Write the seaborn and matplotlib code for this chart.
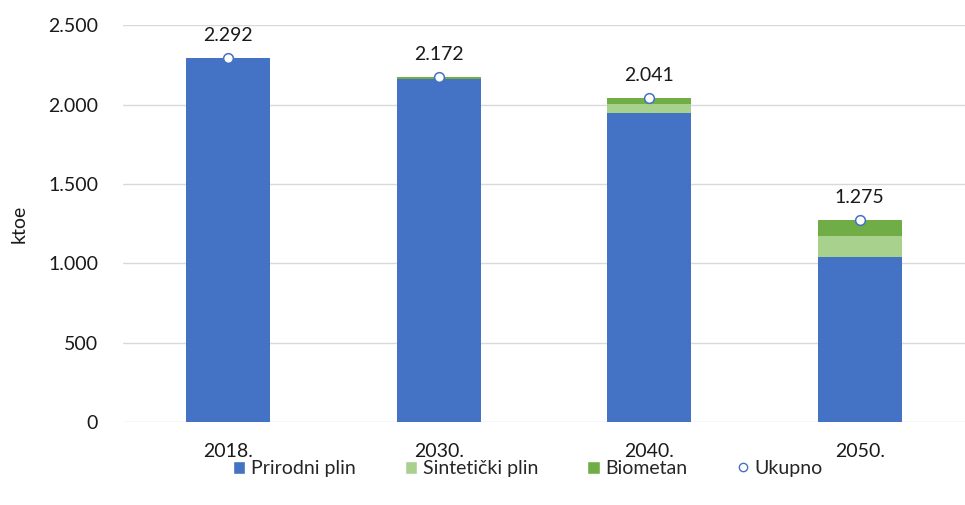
import pandas as pd
import matplotlib.pyplot as plt
import seaborn as sns
from matplotlib.patches import Patch
from matplotlib.lines import Line2D
from matplotlib.ticker import FuncFormatter

years = ["2018.", "2030.", "2040.", "2050."]
prirodni_plin = [2292, 2159, 1950, 1040]
sintetski_plin = [0, 0, 57, 130]
biometan = [0, 13, 34, 105]
ukupno = [2292, 2172, 2041, 1275]

c_blue = "#4472C4"
c_light = "#A9D18E"
c_green = "#70AD47"

df = pd.DataFrame({
    "year": years,
    "plin": prirodni_plin,
    "plin_sint": [a + b for a, b in zip(prirodni_plin, sintetski_plin)],
    "total": [a + b + c for a, b, c in zip(prirodni_plin, sintetski_plin, biometan)],
    "ukupno": ukupno,
})

sns.set_style("white")
plt.rcParams["font.family"] = ["Lato", "DejaVu Sans"]
fs = 14

fig = plt.figure(figsize=(9.65, 5.05), dpi=100)
ax = fig.add_axes([0.1275, 0.164, 0.8725, 0.786])

# stacked look: draw cumulative sums from largest to smallest
for col, c in [("total", c_green), ("plin_sint", c_light), ("plin", c_blue)]:
    sns.barplot(data=df, x="year", y=col, color=c, width=0.4, saturation=1, ax=ax,
                linewidth=0, edgecolor="none", zorder=2)
sns.stripplot(data=df, x="year", y="ukupno", jitter=False, color="white", edgecolor=c_blue,
              linewidth=1.1, size=7, ax=ax, zorder=3)

for i, v in enumerate(ukupno):
    ax.annotate(f"{v:,}".replace(",", "."), (i, v), xytext=(0, 10), textcoords="offset points",
                ha="center", va="bottom", fontsize=fs, color="#1a1a1a")

ax.set_ylim(0, 2500)
ax.set_xlim(-0.5, 3.5)
ax.set_yticks(range(0, 2501, 500))
ax.yaxis.set_major_formatter(FuncFormatter(lambda v, p: f"{int(v):,}".replace(",", ".")))
ax.yaxis.grid(True, color="#D9D9D9", linewidth=1, zorder=0)
ax.set_axisbelow(True)
sns.despine(ax=ax, left=True, top=True, right=True, bottom=True)
ax.tick_params(axis="both", length=0, labelsize=fs, colors="#1a1a1a")
ax.tick_params(axis="x", pad=15)
ax.tick_params(axis="y", pad=18)
ax.set_xlabel("")
ax.set_ylabel("ktoe", fontsize=fs, color="#1a1a1a", labelpad=15)

handles = [
    Patch(facecolor=c_blue, label="Prirodni plin"),
    Patch(facecolor=c_light, label="Sintetički plin"),
    Patch(facecolor=c_green, label="Biometan"),
    Line2D([], [], marker="o", linestyle="none", markerfacecolor="white", markeredgecolor=c_blue,
           markersize=6, label="Ukupno"),
]
fig.legend(handles=handles, loc="center", bbox_to_anchor=(0.547, 0.072), ncol=4, frameon=False,
           fontsize=fs, handlelength=0.65, handleheight=0.65, handletextpad=0.3, columnspacing=2.5)

plt.savefig("out.png", dpi=100)
